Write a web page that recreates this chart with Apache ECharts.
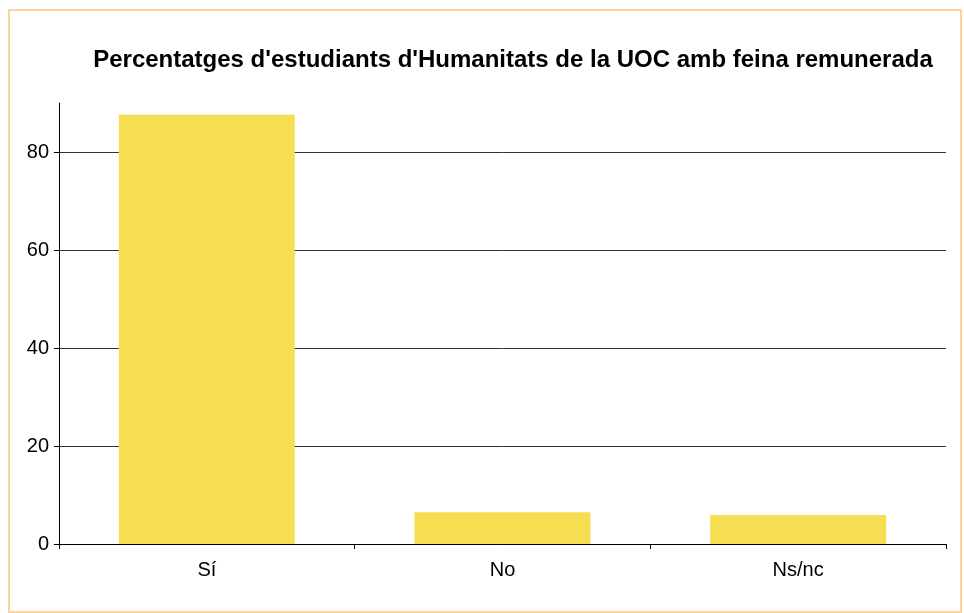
<!DOCTYPE html>
<html>
<head>
<meta charset="utf-8">
<script src="https://cdn.jsdelivr.net/npm/echarts@6/dist/echarts.min.js"></script>
<style>
  html, body { margin: 0; padding: 0; background: #fff; }
  #frame { position: absolute; left: 8px; top: 9px; width: 950px; height: 600px; border: 2px solid #fcd39a; }
  #chart { position: absolute; left: 0; top: 0; width: 964px; height: 613px; }
</style>
</head>
<body>
<div id="frame"></div>
<div id="chart"></div>
<script>
var titleText = "Percentatges d'estudiants d'Humanitats de la UOC amb feina remunerada";
var categories = ['Sí', 'No', 'Ns/nc'];
var percentages = [87.6, 6.5, 5.9];
var yTicks = [0, 20, 40, 60, 80];

var myChart = echarts.init(document.getElementById('chart'));
myChart.setOption({
    animation: false,
    title: {
        text: titleText,
        left: 508,
        top: 43,
        textAlign: 'center',
        textStyle: {
            fontFamily: 'Liberation Sans',
            fontWeight: 'bold',
            fontSize: 24,
            color: '#000'
        }
    },
    grid: {
        left: 59,
        right: 18,
        top: 103,
        bottom: 69,
        containLabel: false
    },
    xAxis: {
        type: 'category',
        data: categories,
        axisLine: { lineStyle: { color: '#000', width: 1 } },
        axisTick: { show: true, length: 5, lineStyle: { color: '#000' } },
        axisLabel: {
            color: '#000',
            fontFamily: 'Liberation Sans',
            fontSize: 20,
            margin: 16
        }
    },
    yAxis: {
        type: 'value',
        min: 0,
        max: 90,
        interval: 20,
        axisLine: { show: true, lineStyle: { color: '#000', width: 1 } },
        axisTick: { show: true, length: 5, customValues: yTicks, lineStyle: { color: '#000' } },
        axisLabel: {
            color: '#000',
            fontFamily: 'Liberation Sans',
            fontSize: 20,
            margin: 10,
            customValues: yTicks
        },
        splitLine: {
            show: true,
            lineStyle: { color: '#333', width: 1 }
        }
    },
    series: [{
        name: 'Percentatge',
        type: 'bar',
        data: percentages,
        barCategoryGap: '40.5%',
        itemStyle: { color: '#f7dd52' }
    }]
});
</script>
</body>
</html>
